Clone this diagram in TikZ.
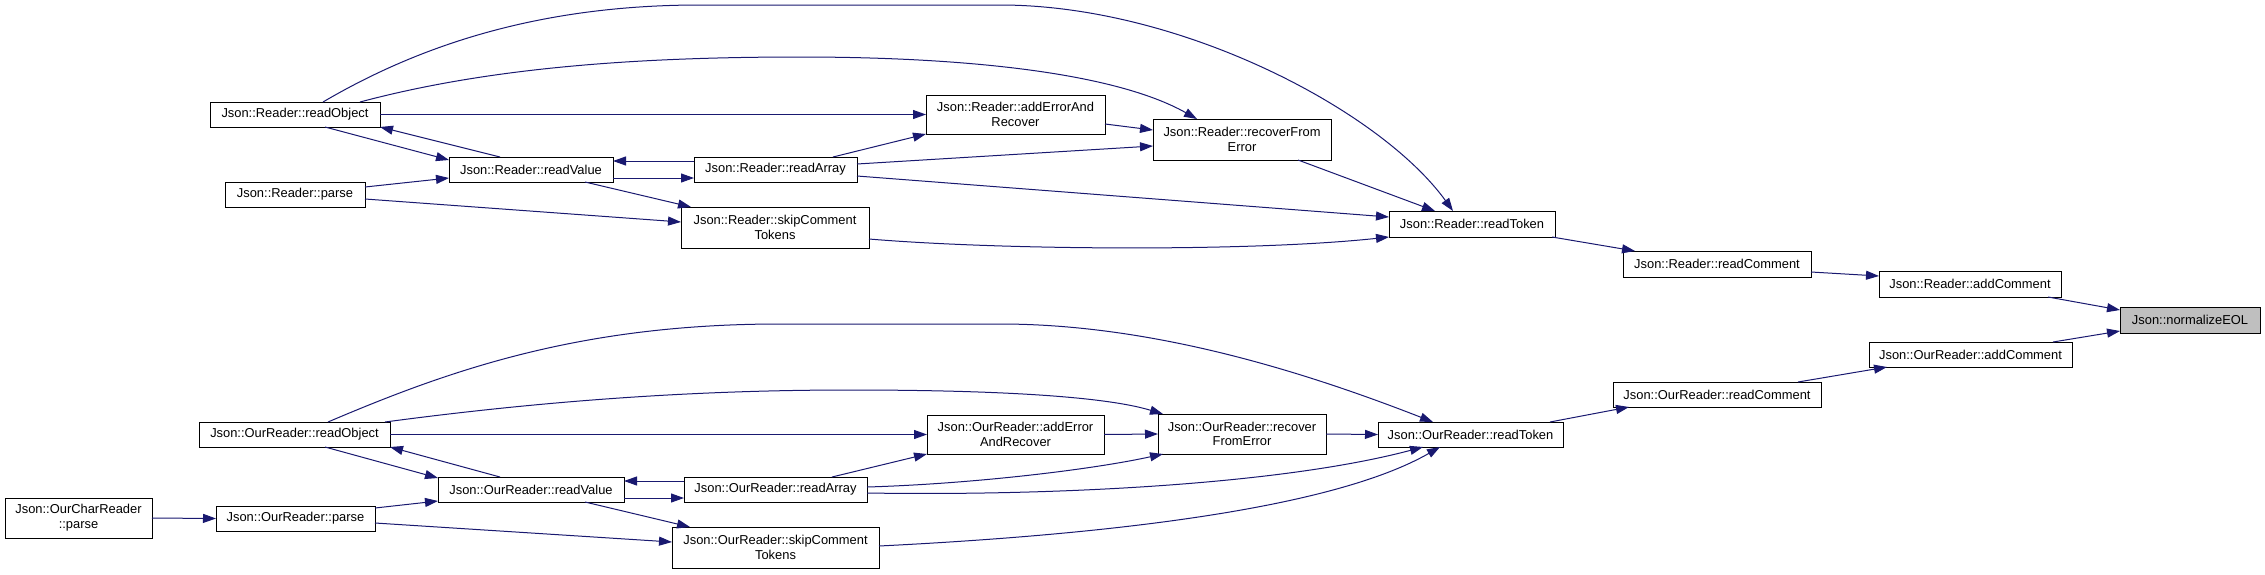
\documentclass[tikz,border=0pt]{standalone}
\usepackage{fontspec}
\setmainfont{Liberation Sans}
\usetikzlibrary{arrows.meta,calc}
\definecolor{edgeblue}{HTML}{191970}
\definecolor{hlgray}{HTML}{BFBFBF}
\tikzset{
  box/.style={draw=black,line width=0.9pt,fill=white,inner sep=0pt,outer sep=0pt,
    align=center,font=\fontsize{12.9}{14.7}\selectfont},
  edge/.style={draw=edgeblue,line width=1pt,-{Triangle[length=13pt,width=9pt]}}
}
\newcommand\bx[7][]{\node[box,#1,minimum width={(#5)-(#3)},minimum height={(#6)-(#4)}] (#2) at ({((#3)+(#5))/2},{((#4)+(#6))/2}) {#7};}
\begin{document}
\begin{tikzpicture}[x=1pt,y=-1pt]
\useasboundingbox[fill=white] (0,0) rectangle (2265,574);
% top group
\bx{rObj}{210}{102}{380}{127}{Json::Reader::readObject}
\bx{rVal}{449}{157}{613}{182}{Json::Reader::readValue}
\bx{rParse}{225}{182}{365}{207}{Json::Reader::parse}
\bx{rArr}{694}{157}{857}{182}{Json::Reader::readArray}
\bx{rSkip}{681}{207}{869}{248}{Json::Reader::skipComment\\Tokens}
\bx{rAdd}{926}{95}{1105}{134}{Json::Reader::addErrorAnd\\Recover}
\bx{rRec}{1153}{119}{1331}{160}{Json::Reader::recoverFrom\\Error}
\bx{rTok}{1389}{211}{1555}{237}{Json::Reader::readToken}
\bx{rCom}{1623}{251}{1811}{277}{Json::Reader::readComment}
\bx{rAddC}{1879}{271}{2061}{297}{Json::Reader::addComment}
\bx[fill=hlgray]{eol}{2120}{307}{2260}{333}{Json::normalizeEOL}
% bottom group
\bx{oAddC}{1869}{342}{2072}{367}{Json::OurReader::addComment}
\bx{oCom}{1613}{382}{1821}{407}{Json::OurReader::readComment}
\bx{oTok}{1378}{422}{1563}{447}{Json::OurReader::readToken}
\bx{oRec}{1158}{414}{1326}{454}{Json::OurReader::recover\\FromError}
\bx{oAdd}{927}{415}{1104}{454}{Json::OurReader::addError\\AndRecover}
\bx{oObj}{199}{422}{390}{447}{Json::OurReader::readObject}
\bx{oVal}{438}{477}{624}{502}{Json::OurReader::readValue}
\bx{oArr}{684}{477}{867}{502}{Json::OurReader::readArray}
\bx{oSkip}{672}{527}{879}{568}{Json::OurReader::skipComment\\Tokens}
\bx{oParse}{216}{506}{375}{531}{Json::OurReader::parse}
\bx{oChar}{5}{498}{152}{538}{Json::OurCharReader\\::parse}
% top edges
\draw[edge] ($(rObj.north west)+(113,0)$) .. controls (420,45) and (540,5) .. (700,5) -- (1000,5) .. controls (1180,5) and (1380,110) .. ($(rTok.north west)+(64,0)$);
\draw[edge] ($(rObj.north west)+(150,0)$) .. controls (480,70) and (620,57) .. (800,57) .. controls (950,57) and (1110,70) .. ($(rRec.north west)+(44,0)$);
\draw[edge] (rObj.east) -- (rAdd.west);
\draw[edge] ($(rObj.south west)+(115,0)$) -- ($(rVal.north west)+(0,3)$);
\draw[edge] ($(rVal.north west)+(51,0)$) -- (rObj.south east);
\draw[edge] ($(rParse.north west)+(140,5)$) -- ($(rVal.north west)+(0,21)$);
\draw[edge] ($(rParse.north west)+(140,17)$) -- ($(rSkip.north west)+(0,15)$);
\draw[edge] ($(rVal.north west)+(164,21)$) -- ($(rArr.north west)+(0,21)$);
\draw[edge] ($(rArr.north west)+(0,4)$) -- ($(rVal.north west)+(164,4)$);
\draw[edge] ($(rVal.south west)+(136,0)$) -- ($(rSkip.north west)+(10,0)$);
\draw[edge] ($(rArr.north west)+(139,0)$) -- (rAdd.south west);
\draw[edge] ($(rArr.north west)+(163,7)$) -- ($(rRec.north west)+(0,27)$);
\draw[edge] ($(rArr.north west)+(163,19)$) -- ($(rTok.north west)+(0,6)$);
\draw[edge] ($(rAdd.north west)+(179,29)$) -- ($(rRec.north west)+(0,11)$);
\draw[edge] ($(rRec.south west)+(145,0)$) -- ($(rTok.north west)+(46,0)$);
\draw[edge] ($(rSkip.north west)+(188,32)$) .. controls (1000,250) and (1250,252) .. (rTok.south west);
\draw[edge] ($(rTok.north west)+(163,26)$) -- ($(rCom.north west)+(12,0)$);
\draw[edge] ($(rCom.north west)+(188,21)$) -- ($(rAddC.north west)+(0,5)$);
\draw[edge] ($(rAddC.south west)+(169,0)$) -- ($(eol.north west)+(0,3)$);
% bottom edges
\draw[edge] ($(oAddC.north west)+(184,0)$) -- ($(eol.north west)+(0,24)$);
\draw[edge] ($(oCom.north west)+(185,0)$) -- ($(oAddC.south west)+(18,0)$);
\draw[edge] ($(oTok.north west)+(172,0)$) -- ($(oCom.south west)+(16,0)$);
\draw[edge] ($(oObj.north west)+(129,0)$) .. controls (450,370) and (580,324) .. (780,324) -- (1000,324) .. controls (1150,324) and (1300,370) .. ($(oTok.north west)+(55,0)$);
\draw[edge] ($(oObj.north west)+(186,0)$) .. controls (550,400) and (700,390) .. (850,390) .. controls (980,390) and (1100,395) .. ($(oRec.north west)+(5,0)$);
\draw[edge] (oObj.east) -- (oAdd.west);
\draw[edge] ($(oObj.south west)+(126,0)$) -- ($(oVal.north west)+(0,1)$);
\draw[edge] ($(oVal.north west)+(62,0)$) -- (oObj.south east);
\draw[edge] ($(oParse.north west)+(159,2)$) -- ($(oVal.north west)+(0,24)$);
\draw[edge] ($(oParse.north west)+(159,17)$) -- ($(oSkip.north west)+(0,15)$);
\draw[edge] (oChar.east) -- (oParse.west);
\draw[edge] ($(oVal.north west)+(186,21)$) -- ($(oArr.north west)+(0,21)$);
\draw[edge] ($(oArr.north west)+(0,4)$) -- ($(oVal.north west)+(186,4)$);
\draw[edge] ($(oVal.south west)+(147,0)$) -- ($(oSkip.north west)+(18,0)$);
\draw[edge] ($(oArr.north west)+(148,0)$) -- (oAdd.south west);
\draw[edge] ($(oArr.north west)+(183,10)$) .. controls (970,484) and (1090,470) .. ($(oRec.south west)+(5,0)$);
\draw[edge] ($(oArr.north west)+(183,16)$) .. controls (1050,496) and (1280,485) .. ($(oTok.south west)+(45,0)$);
\draw[edge] (oAdd.east) -- (oRec.west);
\draw[edge] (oRec.east) -- (oTok.west);
\draw[edge] ($(oSkip.north west)+(207,19)$) .. controls (1100,535) and (1330,510) .. ($(oTok.south west)+(62,0)$);
\end{tikzpicture}
\end{document}
